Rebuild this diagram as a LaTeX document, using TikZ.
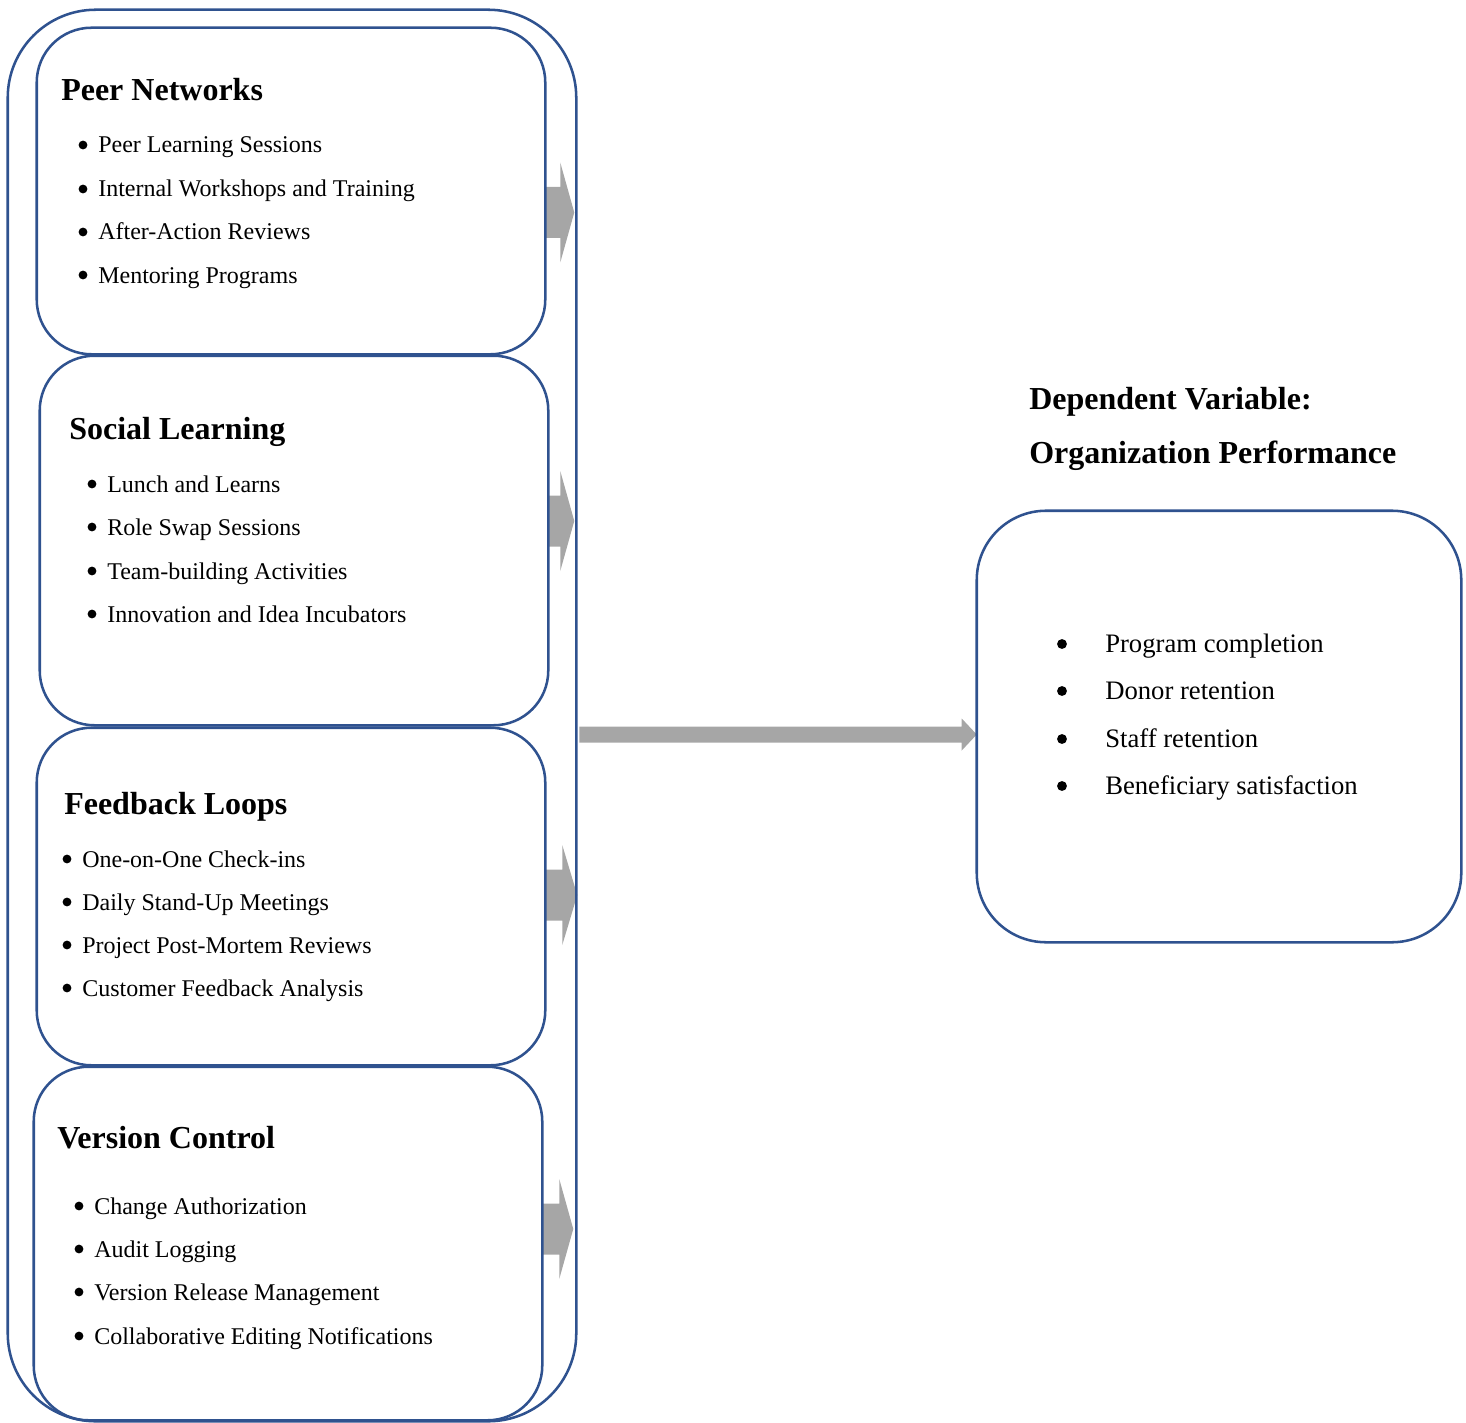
\documentclass[tikz,border=0pt]{standalone}
\usepackage{fontspec}
\setmainfont{Liberation Serif}
\definecolor{boxblue}{HTML}{2F528F}
\definecolor{arrgray}{HTML}{A6A6A6}
\tikzset{
  frame/.style={draw=boxblue, line width=1.9pt, fill=none, rectangle, inner sep=0pt},
  innerbox/.style={frame, rounded corners=41pt},
  ttl/.style={anchor=base west, inner sep=0pt, font=\fontsize{24}{28}\selectfont\bfseries},
  itm/.style={anchor=base west, inner sep=0pt, font=\fontsize{18}{22}\selectfont},
  dot/.style={circle, fill=black, inner sep=0pt, minimum size=6.6pt},
  ritm/.style={anchor=base west, inner sep=0pt, font=\fontsize{20}{24}\selectfont},
  rdot/.style={circle, fill=black, inner sep=0pt, minimum size=7.4pt},
  blockarrow/.style={fill=arrgray, draw=none},
}
\begin{document}
\begin{tikzpicture}[x=0.75pt,y=-0.75pt]
\useasboundingbox (0,0) rectangle (1466,1423);

% box geometry (drawn later, on top of the arrows)
\path (292,715.5) node[minimum width=568*0.75pt, minimum height=1411*0.75pt, inner sep=0pt] (outer) {};
\path (291,191) node[minimum width=508*0.75pt, minimum height=326*0.75pt, inner sep=0pt] (pn) {};
\path (294,540.5) node[minimum width=508*0.75pt, minimum height=369*0.75pt, inner sep=0pt] (sl) {};
\path (291,896.5) node[minimum width=508*0.75pt, minimum height=337*0.75pt, inner sep=0pt] (fl) {};
\path (288,1243.5) node[minimum width=508*0.75pt, minimum height=353*0.75pt, inner sep=0pt] (vc) {};
\path (1219,726.5) node[minimum width=484*0.75pt, minimum height=431*0.75pt, inner sep=0pt] (dv) {};

% small block arrows
\coordinate (a1) at ([yshift=-21.5*0.75pt]pn.east);
\coordinate (a2) at ([yshift=19.5*0.75pt]sl.east);
\coordinate (a3) at ([yshift=1.5*0.75pt]fl.east);
\coordinate (a4) at ([yshift=14.5*0.75pt]vc.east);
\fill[blockarrow] (a1) ++(0,-25.5) -- ++(15,0) -- ++(0,-24.5) -- ++(14,50) -- ++(-14,50) -- ++(0,-24.5) -- ++(-15,0) -- cycle;
\fill[blockarrow] (a2) ++(0,-25.5) -- ++(12,0) -- ++(0,-24.5) -- ++(14,50) -- ++(-14,50) -- ++(0,-24.5) -- ++(-12,0) -- cycle;
\fill[blockarrow] (a3) ++(0,-25.5) -- ++(17,0) -- ++(0,-24.5) -- ++(15,50) -- ++(-15,50) -- ++(0,-24.5) -- ++(-17,0) -- cycle;
\fill[blockarrow] (a4) ++(0,-25.5) -- ++(17,0) -- ++(0,-24.5) -- ++(14,50) -- ++(-14,50) -- ++(0,-24.5) -- ++(-17,0) -- cycle;

% big block arrow from outer box to dependent variable box
\coordinate (bigy) at (0,734.5);
\coordinate (bs) at ([xshift=3*0.75pt]outer.east |- bigy);
\coordinate (be) at (dv.west |- bigy);
\fill[blockarrow] (bs) ++(0,-8) -- ([xshift=-15*0.75pt,yshift=8*0.75pt]be) -- ([xshift=-15*0.75pt,yshift=16*0.75pt]be) -- (be) -- ([xshift=-15*0.75pt,yshift=-16*0.75pt]be) -- ([xshift=-15*0.75pt,yshift=-8*0.75pt]be) -- ([yshift=-8*0.75pt]bs) -- cycle;

% boxes
\draw[frame, rounded corners=66pt] (outer.north west) rectangle (outer.south east);
\draw[innerbox] (pn.north west) rectangle (pn.south east);
\draw[innerbox] (sl.north west) rectangle (sl.south east);
\draw[innerbox] (fl.north west) rectangle (fl.south east);
\draw[innerbox] (vc.north west) rectangle (vc.south east);
\draw[frame, rounded corners=52pt] (dv.north west) rectangle (dv.south east);

% Peer Networks
\node[ttl] (t1) at (61,101) {Peer Networks};
\node[dot] (b11) at (83,145) {}; \node[itm] (i11) at (98,153) {Peer Learning Sessions};
\node[dot] (b12) at (83,189) {}; \node[itm] (i12) at (98,197) {Internal Workshops and Training};
\node[dot] (b13) at (83,232) {}; \node[itm] (i13) at (98,240) {After-Action Reviews};
\node[dot] (b14) at (83,275) {}; \node[itm] (i14) at (98,283) {Mentoring Programs};

% Social Learning
\node[ttl] (t2) at (69,439) {Social Learning};
\node[dot] (b21) at (92,484) {}; \node[itm] (i21) at (107,492) {Lunch and Learns};
\node[dot] (b22) at (92,527) {}; \node[itm] (i22) at (107,535) {Role Swap Sessions};
\node[dot] (b23) at (92,571) {}; \node[itm] (i23) at (107,579) {Team-building Activities};
\node[dot] (b24) at (92,614) {}; \node[itm] (i24) at (107,622) {Innovation and Idea Incubators};

% Feedback Loops
\node[ttl] (t3) at (64,814) {Feedback Loops};
\node[dot] (b31) at (67,859) {}; \node[itm] (i31) at (82,867) {One-on-One Check-ins};
\node[dot] (b32) at (67,902) {}; \node[itm] (i32) at (82,910) {Daily Stand-Up Meetings};
\node[dot] (b33) at (67,945) {}; \node[itm] (i33) at (82,953) {Project Post-Mortem Reviews};
\node[dot] (b34) at (67,988) {}; \node[itm] (i34) at (82,996) {Customer Feedback Analysis};

% Version Control
\node[ttl] (t4) at (57,1148) {Version Control};
\node[dot] (b41) at (79,1206) {}; \node[itm] (i41) at (94,1214) {Change Authorization};
\node[dot] (b42) at (79,1249) {}; \node[itm] (i42) at (94,1257) {Audit Logging};
\node[dot] (b43) at (79,1292) {}; \node[itm] (i43) at (94,1300) {Version Release Management};
\node[dot] (b44) at (79,1336) {}; \node[itm] (i44) at (94,1344) {Collaborative Editing Notifications};

% Dependent variable
\node[ttl] (t5) at (1029,409) {Dependent Variable:};
\node[ttl] (t6) at (1029,463) {Organization Performance};
\node[rdot] (b51) at (1062,644) {}; \node[ritm] (i51) at (1105,652) {Program completion};
\node[rdot] (b52) at (1062,691) {}; \node[ritm] (i52) at (1105,699) {Donor retention};
\node[rdot] (b53) at (1062,739) {}; \node[ritm] (i53) at (1105,747) {Staff retention};
\node[rdot] (b54) at (1062,786) {}; \node[ritm] (i54) at (1105,794) {Beneficiary satisfaction};
\end{tikzpicture}
\end{document}
